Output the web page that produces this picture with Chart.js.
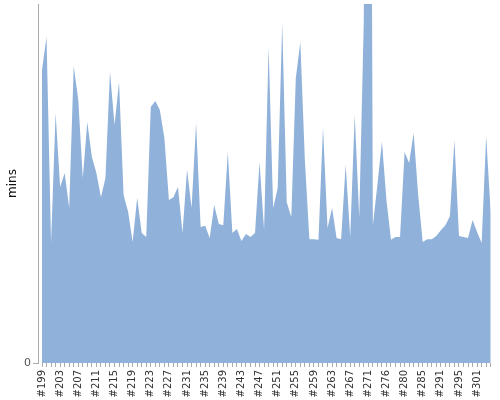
<!DOCTYPE html>
<html><head><meta charset="utf-8">
<script src="https://cdn.jsdelivr.net/npm/chart.js@4/dist/chart.umd.min.js"></script>
<style>html,body{margin:0;padding:0;background:#fff}#wrap{width:500px;height:400px}</style>
</head><body><div id="wrap"><canvas id="c" width="500" height="400"></canvas></div>
<script>
const builds = [
 "#199","#200","#201","#202","#203","#204","#205","#206","#207","#208",
 "#209","#210","#211","#212","#213","#214","#215","#216","#217","#218",
 "#219","#220","#221","#222","#223","#224","#225","#226","#227","#228",
 "#229","#230","#231","#232","#233","#234","#235","#236","#237","#238",
 "#239","#240","#241","#242","#243","#244","#245","#246","#247","#248",
 "#249","#250","#251","#252","#253","#254","#255","#256","#257","#258",
 "#259","#260","#261","#262","#263","#264","#265","#266","#267","#268",
 "#269","#270","#271","#272","#273","#275","#276","#277","#278","#279",
 "#280","#281","#282","#284","#285","#286","#288","#289","#291","#292",
 "#293","#294","#295","#296","#298","#299","#301","#302","#303","#304"
];
const durations = [
 81.6,90.8,33.4,69.6,49.0,52.9,43.2,82.7,73.3,51.5,
 67.1,57.4,52.9,46.2,51.5,81.1,66.3,78.3,46.8,42.1,
 33.7,46.0,36.2,35.1,71.3,73.0,70.5,62.7,45.4,46.2,
 49.0,36.2,53.8,43.2,66.9,37.9,38.2,34.8,44.0,38.7,
 38.4,58.8,36.2,37.3,34.0,35.9,35.1,36.2,56.0,37.0,
 88.0,43.2,48.7,94.7,44.8,40.7,79.4,89.4,56.5,34.5,
 34.5,34.3,65.7,37.6,43.2,34.8,34.5,55.2,35.1,69.1,
 40.4,95.5,380.0,38.4,49.6,61.6,45.4,34.3,35.1,35.1,
 58.8,55.7,64.1,46.8,33.7,34.5,34.5,35.4,37.0,38.4,
 40.9,62.1,35.4,35.1,34.8,39.8,36.5,33.4,63.2,41.8
];
const yTicks = [0];
const labelEvery = 4;
const yLabel = "mins";

function noPad(s) {
  s.paddingTop = 0; s.paddingBottom = 0; s.paddingLeft = 0; s.paddingRight = 0;
}

new Chart(document.getElementById('c'), {
  type: 'line',
  data: {
    datasets: [{
      data: durations.map((v, i) => ({ x: i, y: v })),
      fill: 'origin',
      backgroundColor: '#8FB1DA',
      borderWidth: 0,
      borderColor: 'rgba(0,0,0,0)',
      pointRadius: 0,
      tension: 0
    }]
  },
  options: {
    responsive: false,
    animation: false,
    devicePixelRatio: 1,
    layout: { padding: { left: 0, right: 6, top: 4, bottom: 0 } },
    plugins: { legend: { display: false }, tooltip: { enabled: false } },
    scales: {
      x: {
        type: 'linear',
        min: -0.883,
        max: 99.73,
        afterBuildTicks: s => { s.ticks = builds.map((b, i) => ({ value: i })); },
        afterFit: s => { s.height = 37; noPad(s); },
        ticks: {
          autoSkip: false,
          maxRotation: 90,
          minRotation: 90,
          padding: 3,
          color: '#333',
          font: { family: 'DejaVu Sans', size: 10 },
          callback: v => (Number.isInteger(v) && v % labelEvery === 0) ? builds[v] : ''
        },
        grid: { drawOnChartArea: false, drawTicks: true, tickLength: 4, color: '#aaa' },
        border: { display: false }
      },
      y: {
        min: 0,
        max: 100,
        afterBuildTicks: s => { s.ticks = yTicks.map(v => ({ value: v })); },
        afterFit: s => { s.width = 38; noPad(s); },
        ticks: {
          padding: 2,
          color: '#555',
          font: { family: 'DejaVu Sans', size: 11 }
        },
        grid: { drawOnChartArea: false, drawTicks: true, tickLength: 5, color: '#aaa' },
        border: { display: true, color: '#aaa' },
        title: {
          display: true,
          text: yLabel,
          color: '#111',
          font: { family: 'DejaVu Sans', size: 12 },
          padding: { top: 6, bottom: 0 }
        }
      }
    }
  }
});
</script>
</body></html>
